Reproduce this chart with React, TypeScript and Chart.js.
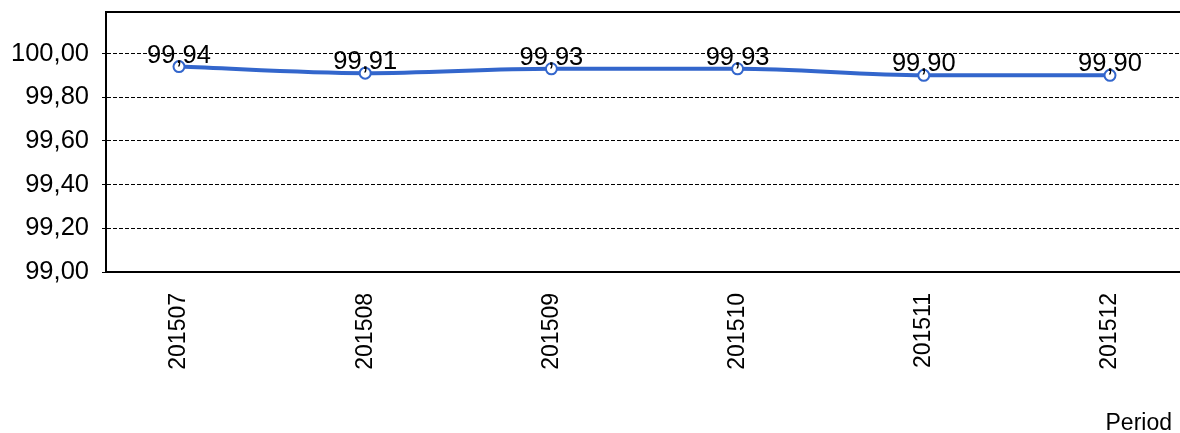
import React, { useEffect, useRef } from "react";
import { Chart, registerables } from "chart.js";

Chart.register(...registerables);

const categories = ["201507", "201508", "201509", "201510", "201511", "201512"];
const values = [99.94, 99.91, 99.93, 99.93, 99.9, 99.9];
const yTicks = [99.0, 99.2, 99.4, 99.6, 99.8, 100.0];
const xTitle = "Period";

const FONT = "'Liberation Sans', Arial, sans-serif";
const BLUE = "#3366CC";

const fmt = (v: number) => v.toFixed(2).replace(".", ",");

export default function App() {
  const ref = useRef<HTMLCanvasElement | null>(null);

  useEffect(() => {
    if (!ref.current) return;
    const labelPlugin = {
      id: "labelsAndFrame",
      afterLayout(chart: any) {
        const xs = chart.scales.x;
        const a = chart.chartArea;
        a.right = chart.width;
        a.width = a.right - a.left;
        xs.right = chart.width;
        xs.width = xs.right - xs.left;
        xs.configure();
      },
      afterDatasetsDraw(chart: any) {
        const ctx = chart.ctx;
        const meta = chart.getDatasetMeta(0);
        ctx.save();
        ctx.fillStyle = "#000";
        ctx.font = `25.5px ${FONT}`;
        ctx.textAlign = "center";
        ctx.textBaseline = "alphabetic";
        meta.data.forEach((pt: any, i: number) => {
          ctx.fillText(fmt(values[i]), pt.x, pt.y - 4);
        });
        ctx.restore();
      },
      afterDraw(chart: any) {
        const ctx = chart.ctx;
        const a = chart.chartArea;
        ctx.save();
        ctx.strokeStyle = "#000";
        ctx.lineWidth = 2;
        ctx.beginPath();
        ctx.moveTo(a.left - 1, a.top);
        ctx.lineTo(chart.width, a.top);
        ctx.stroke();
        ctx.fillStyle = "#000";
        ctx.font = `23px ${FONT}`;
        ctx.textAlign = "right";
        ctx.textBaseline = "alphabetic";
        ctx.fillText(xTitle, 1172, 430);
        ctx.restore();
      },
    };

    const chart = new Chart(ref.current, {
      type: "line",
      data: {
        datasets: [
          {
            data: values.map((v, i) => ({ x: i, y: v })),
            borderColor: BLUE,
            borderWidth: 4,
            pointRadius: 5.5,
            pointBorderWidth: 2,
            pointBackgroundColor: "#fff",
            pointBorderColor: BLUE,
            cubicInterpolationMode: "monotone",
          },
        ],
      },
      options: {
        responsive: false,
        animation: false,
        devicePixelRatio: 1,
        layout: { padding: { top: 12, left: 0, right: 0, bottom: 0 } },
        plugins: { legend: { display: false }, tooltip: { enabled: false } },
        scales: {
          x: {
            type: "linear",
            min: -0.392,
            max: 5.376,
            grid: { display: false, drawTicks: false },
            border: { display: true, color: "#000", width: 2 },
            afterBuildTicks: (s: any) => {
              s.ticks = categories.map((_, i) => ({ value: i }));
            },
            afterFit: (s: any) => {
              s.height = 161;
              s.paddingLeft = 0;
              s.paddingRight = 0;
              s.paddingTop = 0;
              s.paddingBottom = 0;
              if (s._margins) s._margins.right = 0;
            },
            ticks: {
              minRotation: 90,
              maxRotation: 90,
              autoSkip: false,
              padding: 21,
              color: "#000",
              font: { family: FONT, size: 23 },
              callback: (v: any) => categories[Math.round(Number(v))] ?? "",
            },
          },
          y: {
            min: 99.0,
            max: 100.19,
            afterBuildTicks: (s: any) => {
              s.ticks = yTicks.map((v) => ({ value: v }));
            },
            afterFit: (s: any) => {
              s.width = 106;
              s.paddingLeft = 0;
              s.paddingRight = 0;
              s.paddingTop = 0;
              s.paddingBottom = 0;
            },
            grid: {
              color: "#000",
              lineWidth: 1,
              tickLength: 4,
              tickColor: "#000",
              tickBorderDash: [4, 2],
            },
            border: { display: true, color: "#000", width: 2, dash: [4, 2] },
            ticks: {
              padding: 13,
              color: "#000",
              font: { family: FONT, size: 25.5 },
              callback: (v: any) => fmt(Number(v)),
            },
          },
        },
      },
      plugins: [labelPlugin],
    });
    return () => chart.destroy();
  }, []);

  return (
    <div style={{ position: "fixed", left: 0, top: 0, width: 1180, height: 433, background: "#fff" }}>
      <canvas ref={ref} width={1180} height={433} />
    </div>
  );
}
